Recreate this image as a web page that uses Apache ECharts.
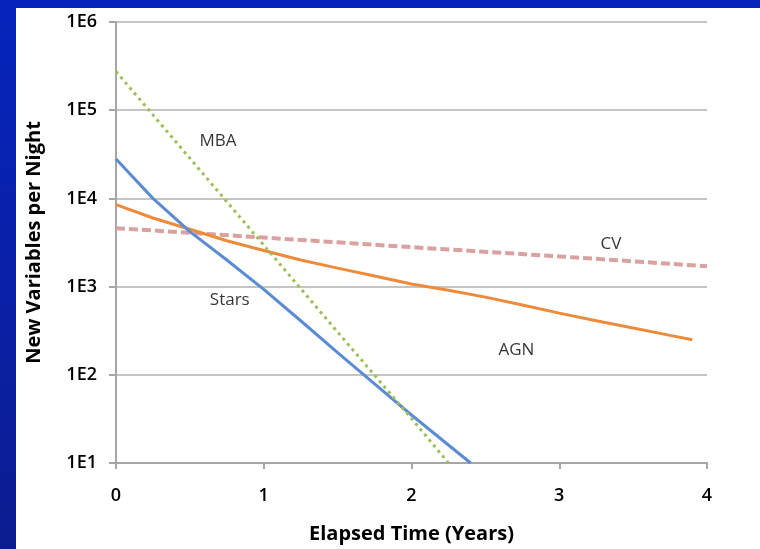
<!DOCTYPE html>
<html>
<head>
<meta charset="utf-8">
<script src="https://cdn.jsdelivr.net/npm/echarts@6/dist/echarts.min.js"></script>
<style>
  html, body { margin: 0; padding: 0; width: 760px; height: 549px; overflow: hidden; }
  body { background: linear-gradient(to bottom, #0424BC 0%, #0A20A8 50%, #0C1C90 100%); position: relative; }
  #chart { position: absolute; left: 16px; top: 8px; width: 744px; height: 541px; background: #ffffff; }
</style>
</head>
<body>
<div id="chart"></div>
<script>
// Elapsed time in years for each series
const starsT = [0, 0.25, 0.5, 0.75, 1.0, 1.25, 1.5, 1.75, 2.0, 2.25, 2.4];
const starsV = [28000, 10000, 4200, 2000, 930, 410, 178, 79, 35, 16, 10];

const mbaT = [0, 0.5, 1.0, 1.5, 2.0, 2.25];
const mbaV = [275000, 28500, 2950, 305, 32, 10];

const agnT = [0, 0.25, 0.5, 0.75, 1.0, 1.25, 1.5, 1.75, 2.0, 2.25, 2.5, 2.75, 3.0, 3.25, 3.5, 3.75, 3.9];
const agnV = [8500, 6000, 4470, 3310, 2570, 2000, 1620, 1320, 1070, 910, 760, 620, 500, 410, 340, 280, 250];

const cvT = [0, 1, 2, 3, 4];
const cvV = [4600, 3600, 2800, 2200, 1700];

// In-plot series names and where they sit (years, variables per night)
const tagNames = ['MBA', 'Stars', 'CV', 'AGN'];
const tagT = [0.69, 0.77, 3.35, 2.71];
const tagV = [44700, 708, 3020, 190];

const xTicks = [0, 1, 2, 3, 4];
const yTickLabels = ['1E1', '1E2', '1E3', '1E4', '1E5', '1E6'];

const pair = (ts, vs) => ts.map((t, i) => [t, vs[i]]);
const font = '"Open Sans", "Liberation Sans", sans-serif';

const chart = echarts.init(document.getElementById('chart'), null, { renderer: 'canvas' });
chart.setOption({
  animation: false,
  backgroundColor: '#ffffff',
  grid: { left: 92, right: 53, top: 14, bottom: 83, containLabel: false },
  xAxis: {
    type: 'value',
    min: xTicks[0],
    max: xTicks[xTicks.length - 1],
    interval: 1,
    name: 'Elapsed Time (Years)',
    nameLocation: 'middle',
    nameGap: 61,
    nameTextStyle: { fontFamily: font, fontWeight: 'bold', fontSize: 20, color: '#000000' },
    axisLine: { lineStyle: { color: '#A6A6A6', width: 2 } },
    axisTick: { show: true, length: 6, lineStyle: { color: '#A6A6A6', width: 2 } },
    axisLabel: { margin: 24, fontFamily: font, fontWeight: 600, fontSize: 18, color: '#000000' },
    splitLine: { show: false }
  },
  yAxis: {
    type: 'log',
    logBase: 10,
    min: 10,
    max: 1000000,
    name: 'New Variables per Night',
    nameLocation: 'middle',
    nameGap: 72,
    nameTextStyle: { fontFamily: font, fontWeight: 'bold', fontSize: 20, color: '#000000' },
    axisLine: { show: true, lineStyle: { color: '#A6A6A6', width: 2 } },
    axisTick: { show: true, length: 7, lineStyle: { color: '#A6A6A6', width: 2 } },
    axisLabel: {
      margin: 19,
      fontFamily: font,
      fontWeight: 600,
      fontSize: 18,
      color: '#000000',
      formatter: v => yTickLabels[Math.round(Math.log10(v)) - 1]
    },
    splitLine: { show: true, lineStyle: { color: '#C4C4C4', width: 2 } }
  },
  series: [
    {
      name: 'CV', type: 'line', data: pair(cvT, cvV), symbol: 'none',
      lineStyle: { color: '#D9A1A0', width: 4, type: [9, 4] }
    },
    {
      name: 'AGN', type: 'line', data: pair(agnT, agnV), symbol: 'none',
      lineStyle: { color: '#EE8B3A', width: 3 }
    },
    {
      name: 'Stars', type: 'line', data: pair(starsT, starsV), symbol: 'none',
      lineStyle: { color: '#5B8BD3', width: 3 }
    },
    {
      name: 'MBA', type: 'line', data: pair(mbaT, mbaV), symbol: 'none',
      lineStyle: { color: '#9CBF5A', width: 3, type: [3, 4] }
    },
    {
      name: 'tags', type: 'scatter', symbolSize: 0, silent: true,
      data: tagNames.map((n, i) => ({ value: [tagT[i], tagV[i]], name: n })),
      label: {
        show: true, position: 'inside', formatter: p => p.name,
        fontFamily: font, fontSize: 17, color: '#000000'
      }
    }
  ]
});
</script>
</body>
</html>
